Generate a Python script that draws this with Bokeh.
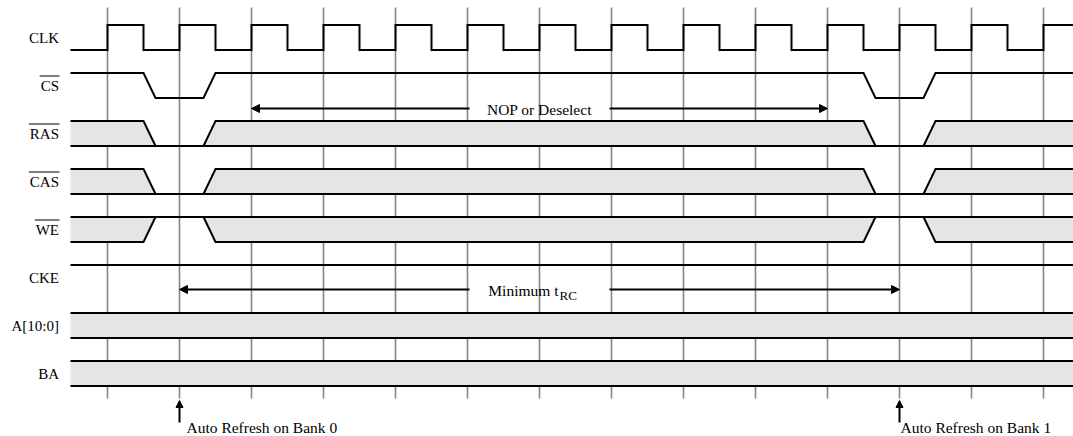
from bokeh.plotting import figure
from bokeh.models import Range1d, Arrow, NormalHead
from bokeh.core.properties import value
from bokeh.embed import file_html
from bokeh.resources import INLINE

# ---------------- data ----------------
signals = ["CLK", "CS", "RAS", "CAS", "WE", "CKE", "A[10:0]", "BA"]
active_low = [False, True, True, True, True, False, False, False]
kinds = ["clock", "pulse", "band_low", "band_low", "band_high", "level", "band", "band"]
clock_edges = list(range(14))          # clock rising edges (cycle index)
refresh_cycles = [1, 11]               # cycles where Auto Refresh is issued
refresh_labels = ["Auto Refresh on Bank 0", "Auto Refresh on Bank 1"]
nop_span = [2, 10]
nop_label = "NOP or Deselect"
trc_span = [1, 11]
trc_label = ["Minimum t", "RC"]

# ---------------- layout / style ----------------
W, H = 1073, 436
PX = 72.0            # px per cycle
ROW = 48.0           # px per row
X0PX, Y0PX = 107, 37  # pixel position of cycle 0 / row 0


def tx(px):   # pixel -> cycle units
    return (px - X0PX) / PX


def ry(py):   # pixel -> row units
    return (py - Y0PX) / ROW


T0 = tx(70)          # left edge of waveforms
T1 = tx(W + 20)      # right edge (beyond frame)
SETUP = 0.5
SLEW = 12 / PX
AMP = 12.5 / ROW
FONT = value("'Liberation Serif', 'Times New Roman', serif")
FS = 15.5
GRAY = "#868686"
FILL = "#e5e5e5"
LW = 2

# Times / Liberation Serif advance widths (per em) for overline lengths
ADV = {"C": 0.667, "S": 0.556, "R": 0.667, "A": 0.722, "W": 0.944, "E": 0.611}

p = figure(width=W, height=H,
           x_range=Range1d(tx(0), tx(W)),
           y_range=Range1d(ry(H), ry(0)),
           output_backend="svg", toolbar_location=None,
           x_axis_location=None, y_axis_location=None,
           min_border=0, outline_line_color=None)
p.grid.visible = False
p.background_fill_color = "white"
p.border_fill_color = "white"

n = len(signals)

# clock edge grid lines
p.segment(x0=clock_edges, y0=[ry(7)] * len(clock_edges),
          x1=clock_edges, y1=[ry(398)] * len(clock_edges),
          line_color=GRAY, line_width=1.6)

fill_xs, fill_ys = [], []
line_xs, line_ys = [], []

for i, kind in enumerate(kinds):
    hi, lo = i - AMP, i + AMP
    if kind == "clock":
        xs, ys = [T0], [lo]
        for k in clock_edges:
            xs += [k, k, k + 0.5, k + 0.5]
            ys += [lo, hi, hi, lo]
        xs.append(T1); ys.append(lo)
        line_xs.append(xs); line_ys.append(ys)
    elif kind == "pulse":
        xs, ys = [T0], [hi]
        for c in refresh_cycles:
            xs += [c - SETUP, c - SETUP + SLEW, c + SETUP - SLEW, c + SETUP]
            ys += [hi, lo, lo, hi]
        xs.append(T1); ys.append(hi)
        line_xs.append(xs); line_ys.append(ys)
    elif kind == "level":
        line_xs.append([T0, T1]); line_ys.append([hi, hi])
    elif kind == "band":
        fill_xs.append([T0, T1, T1, T0]); fill_ys.append([hi, hi, lo, lo])
        line_xs += [[T0, T1], [T0, T1]]; line_ys += [[hi, hi], [lo, lo]]
    else:
        y_line, y_edge = (lo, hi) if kind == "band_low" else (hi, lo)
        starts = [T0] + [c + SETUP for c in refresh_cycles]
        ends = [c - SETUP for c in refresh_cycles] + [T1]
        for s, e in zip(starts, ends):
            xs, ys = [], []
            if s != T0:
                xs.append(s - SLEW); ys.append(y_line)
            xs.append(s); ys.append(y_edge)
            xs.append(e); ys.append(y_edge)
            if e != T1:
                xs.append(e + SLEW); ys.append(y_line)
            line_xs.append(xs); line_ys.append(ys)
            fill_xs.append(xs + [xs[-1], xs[0]])
            fill_ys.append(ys + [y_line, y_line])
        line_xs.append([T0, T1]); line_ys.append([y_line, y_line])

p.patches(xs=fill_xs, ys=fill_ys, fill_color=FILL, line_color=None)
p.multi_line(xs=line_xs, ys=line_ys, line_color="black", line_width=LW,
             line_join="miter")

# signal names (right aligned) with overbars for active-low signals
LX = tx(58.5)
LFS = 15
p.text(x=[LX] * n, y=[i + 0.5 / ROW for i in range(n)], text=signals,
       text_align="right", text_baseline="middle",
       text_font=FONT, text_font_size=f"{LFS}px", text_color="black")
ob_x0, ob_x1, ob_y = [], [], []
for i, (s, a) in enumerate(zip(signals, active_low)):
    if a:
        wpx = sum(ADV.get(ch, 0.6) for ch in s) * LFS
        ob_x0.append(LX - (wpx + 1) / PX); ob_x1.append(LX + 0.5 / PX)
        ob_y.append(i - 9.5 / ROW)
p.segment(x0=ob_x0, y0=ob_y, x1=ob_x1, y1=ob_y, line_color="black",
          line_width=1.1)

# span arrows with centred captions
GAP = 70 / PX


def span_arrow(span, y):
    mid = (span[0] + span[1]) / 2
    for tip, tail in ((span[0], mid - GAP), (span[1], mid + GAP)):
        p.add_layout(Arrow(end=NormalHead(size=8, fill_color="black",
                                          line_color="black", line_width=1),
                           x_start=tail, y_start=y, x_end=tip, y_end=y,
                           line_color="black", line_width=LW))
    return mid


y_nop = ry(108)
mid = span_arrow(nop_span, y_nop)
p.text(x=[mid], y=[y_nop + 0.5 / ROW], text=[nop_label], text_align="center",
       text_baseline="middle", text_font=FONT, text_font_size=f"{FS}px",
       text_color="black")

y_trc = ry(289)
mid = span_arrow(trc_span, y_trc)
xj = mid + 19 / PX
p.text(x=[xj], y=[y_trc + 0.5 / ROW], text=[trc_label[0]], text_align="right",
       text_baseline="middle", text_font=FONT, text_font_size=f"{FS}px",
       text_color="black")
p.text(x=[xj + 1 / PX], y=[y_trc + 6 / ROW], text=[trc_label[1]],
       text_align="left", text_baseline="middle", text_font=FONT,
       text_font_size="13px", text_color="black")

# auto refresh markers
label_dx = [7, 1]
for c in refresh_cycles:
    p.add_layout(Arrow(end=NormalHead(size=7, fill_color="black",
                                      line_color="black", line_width=1),
                       x_start=c, y_start=ry(422), x_end=c, y_end=ry(400),
                       line_color="black", line_width=LW))
p.text(x=[c + d / PX for c, d in zip(refresh_cycles, label_dx)],
       y=[ry(427)] * len(refresh_cycles), text=refresh_labels,
       text_align="left", text_baseline="middle", text_font=FONT,
       text_font_size=f"{FS}px", text_color="black")

open("out.html", "w").write(file_html(p, INLINE))
